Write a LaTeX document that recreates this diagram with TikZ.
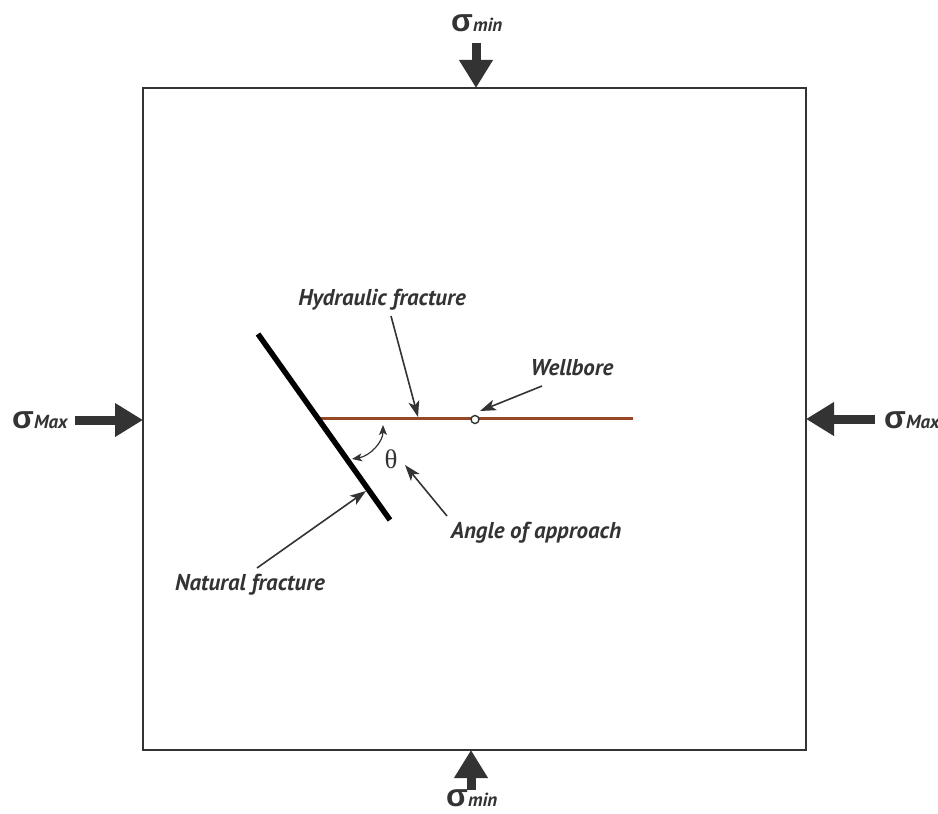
\documentclass[tikz,border=0pt]{standalone}
\usepackage{fontspec}
\setmainfont{PT Sans}
\newfontfamily\sigmafont{Liberation Sans}
\newfontfamily\thetafont{Liberation Serif}
\usetikzlibrary{arrows.meta}
\definecolor{ink}{RGB}{51,51,51}
\definecolor{hfrac}{RGB}{150,72,38}
\tikzset{
  lbl/.style={font=\fontsize{23}{26}\selectfont\bfseries\itshape, text=ink, inner sep=0pt},
  stress/.style={draw=ink, line width=9bp, -{Triangle[width=32bp,length=28bp]}},
  pointer/.style={draw=ink, line width=1.6bp, -{Stealth[length=16bp,width=11bp,inset=4bp]}},
  anglearc/.style={draw=ink, line width=1.2bp, {Stealth[length=10bp,width=8bp,inset=2.5bp]}-{Stealth[length=10bp,width=8bp,inset=2.5bp]}},
  stresslbl/.style={inner sep=0pt, anchor=base west, text=ink},
}
\newcommand\siglbl[1]{{\sigmafont\fontsize{32}{32}\selectfont\bfseries σ}{\fontsize{19}{22}\selectfont\bfseries\itshape #1}}
\begin{document}
\begin{tikzpicture}[x=1bp,y=-1bp]
\useasboundingbox (0,0) rectangle (938,814);

% rock block
\draw[ink, line width=2bp] (143,88) rectangle (806,750);
\coordinate (boxN) at (476,88);
\coordinate (boxS) at (471,750);
\coordinate (boxW) at (143,420);
\coordinate (boxE) at (806,419);

% far-field stresses
\coordinate (tailN) at (476,43);
\coordinate (tailS) at (471,790);
\coordinate (tailW) at (75,420);
\coordinate (tailE) at (875,419);
\draw[stress] (tailN) -- (boxN);
\draw[stress] (tailS) -- (boxS);
\draw[stress] (tailW) -- (boxW);
\draw[stress] (tailE) -- (boxE);
\node[stresslbl] (sigN) at (451,32) {\siglbl{min}};
\node[stresslbl] (sigS) at (446,806) {\siglbl{min}};
\node[stresslbl] (sigW) at (12,428) {\siglbl{Max}};
\node[stresslbl] (sigE) at (884,428) {\siglbl{Max}};

% fractures
\coordinate (hfA) at (318,418.5);
\coordinate (hfB) at (633,418.5);
\draw[hfrac, line width=3.6bp] (hfA) -- (hfB);
\coordinate (nfA) at (258,334);
\coordinate (nfB) at (390,520);
\draw[black, line width=5.5bp] (nfA) -- (nfB);
\node[circle, draw=ink, fill=white, line width=1.4bp, minimum size=8bp, inner sep=0pt] (well) at (475,419.5) {};

% angle of approach
\coordinate (arcA) at (352,459);
\coordinate (arcB) at (383,425);
\draw[anglearc] (arcA) .. controls (370,456) and (383,442) .. (arcB);
\node[text=ink, inner sep=0pt, font=\thetafont\fontsize{27}{27}\selectfont] (theta) at (391,459) {θ};

% labels and leaders
\node[lbl] (hfLbl) at (382,300) {Hydraulic fracture};
\node[lbl] (wbLbl) at (572,368) {Wellbore};
\node[lbl] (aoaLbl) at (536,533) {Angle of approach};
\node[lbl] (nfLbl) at (250,585) {Natural fracture};

\coordinate (hfTail) at (391,316);
\coordinate (hfTip) at (418,417);
\coordinate (wbTail) at (542,386);
\coordinate (wbTip) at (480,411);
\coordinate (aoaTail) at (447,516);
\coordinate (aoaTip) at (405,465);
\coordinate (nfTail) at (257,568);
\coordinate (nfTip) at (366,491);
\draw[pointer] (hfTail) -- (hfTip);
\draw[pointer] (wbTail) -- (wbTip);
\draw[pointer] (aoaTail) -- (aoaTip);
\draw[pointer] (nfTail) -- (nfTip);
\end{tikzpicture}
\end{document}
